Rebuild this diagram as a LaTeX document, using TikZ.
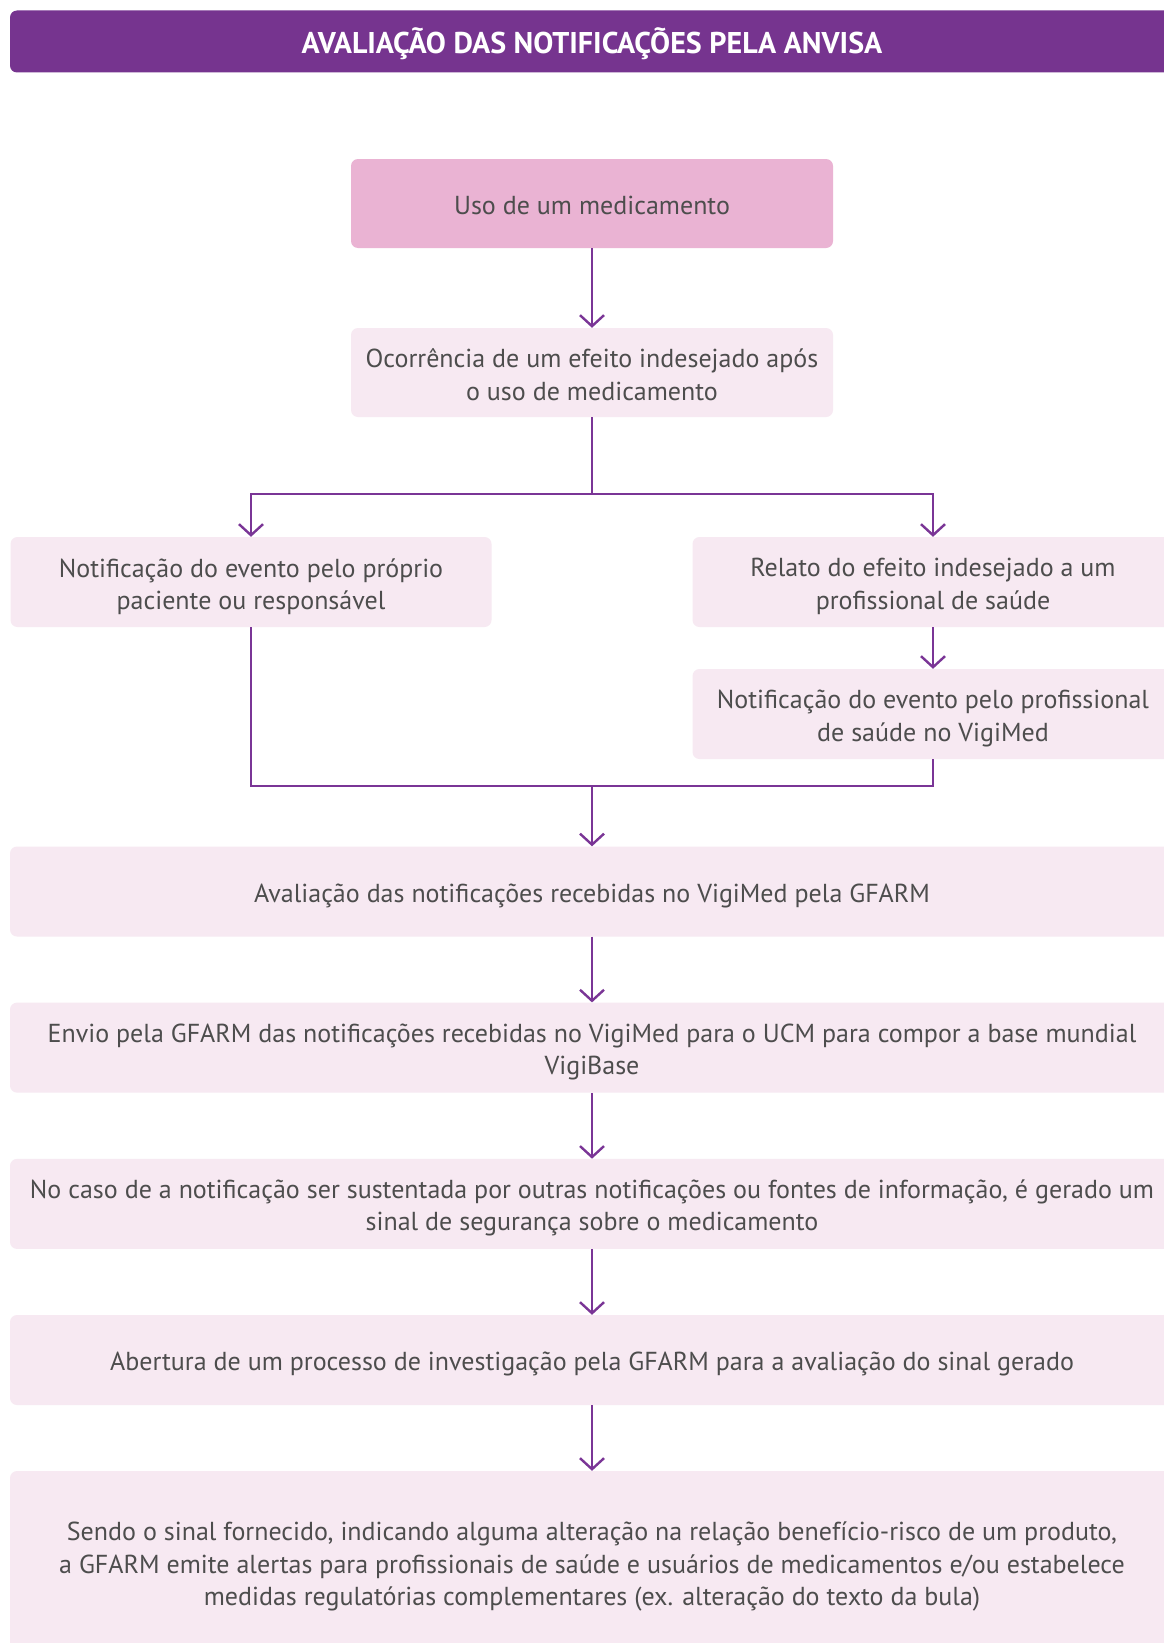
\documentclass[tikz,border=0pt]{standalone}
\usepackage{fontspec}
\setmainfont{PT Sans}
\usetikzlibrary{arrows.meta}
\definecolor{hdr}{HTML}{76348F}
\definecolor{pinkbox}{HTML}{EAB3D3}
\definecolor{lightbox}{HTML}{F7E9F2}
\definecolor{txt}{HTML}{4D4D4D}
\definecolor{arrc}{HTML}{7A3596}
\newcommand{\bodyfont}{\fontsize{26}{32.5}\selectfont}
\tikzset{
  box/.style={rounded corners=7pt, fill=lightbox, inner sep=0pt},
  halfbox/.style={box, minimum width=481pt, minimum height=90pt},
  fullbox/.style={box, minimum width=1164pt, minimum height=90pt},
  lbl/.style={inner sep=0pt, align=center, font=\bodyfont, text=txt},
  conn/.style={draw=arrc, line width=2.4pt},
  arr/.style={conn, -{Straight Barb[length=11pt,width=24pt,line width=2.4pt]}},
}
\begin{document}
\begin{tikzpicture}[x=1pt,y=-1pt]
\clip (0,0) rectangle (1164,1643);
\fill[white] (0,0) rectangle (1164,1643);
% header
\node[rounded corners=7pt, fill=hdr, minimum width=1164pt, minimum height=62pt, inner sep=0pt] (title) at (592,41.5) {};
\node[inner sep=0pt, text=white, font=\fontsize{30}{34}\selectfont\bfseries] (titletext) at ([yshift=-2pt]title.center) {AVALIAÇÃO DAS NOTIFICAÇÕES PELA ANVISA};
% boxes
\node[halfbox, fill=pinkbox, minimum width=482pt, minimum height=89pt] (b1) at (592,203.5) {};
\node[halfbox, minimum width=482pt, minimum height=89pt] (b2) at (592,372.5) {};
\node[halfbox] (b3) at (251,582) {};
\node[halfbox] (b4) at (933,582) {};
\node[halfbox] (b5) at (933,714) {};
\node[fullbox] (b6) at (592,891.5) {};
\node[fullbox] (b7) at (592,1047.6) {};
\node[fullbox] (b8) at (592,1203.9) {};
\node[fullbox] (b9) at (592,1360) {};
\node[fullbox, minimum height=184pt] (b10) at (592,1563) {};
% texts
\node[lbl] (t1) at ([yshift=-2pt]b1.center) {Uso de um medicamento};
\node[lbl] (t2) at ([yshift=-2pt]b2.center) {Ocorrência de um efeito indesejado após\\o uso de medicamento};
\node[lbl] (t3) at ([yshift=-4.5pt]b3.center) {Notificação do evento pelo próprio\\paciente ou responsável};
\node[lbl] (t4) at ([yshift=-4.5pt]b4.center) {Relato do efeito indesejado a um\\profissional de saúde};
\node[lbl] (t5) at ([yshift=-4.5pt]b5.center) {Notificação do evento pelo profissional\\de saúde no VigiMed};
\node[lbl] (t6) at ([yshift=-4pt]b6.center) {Avaliação das notificações recebidas no VigiMed pela GFARM};
\node[lbl] (t7) at ([yshift=-4.5pt]b7.center) {Envio pela GFARM das notificações recebidas no VigiMed para o UCM para compor a base mundial\\VigiBase};
\node[lbl] (t8) at ([yshift=-4pt]b8.center) {No caso de a notificação ser sustentada por outras notificações ou fontes de informação, é gerado um\\sinal de segurança sobre o medicamento};
\node[lbl] (t9) at ([yshift=-4pt]b9.center) {Abertura de um processo de investigação pela GFARM para a avaliação do sinal gerado};
\node[lbl] (t10) at ([yshift=-3.5pt]b10.center) {Sendo o sinal fornecido, indicando alguma alteração na relação benefício-risco de um produto,\\a GFARM emite alertas para profissionais de saúde e usuários de medicamentos e/ou estabelece\\medidas regulatórias complementares (ex. alteração do texto da bula)};
% connectors
\coordinate (split) at (592,494);
\coordinate (join) at (592,786);
\draw[arr] (b1) -- (b2);
\draw[conn] (b2) -- (split);
\draw[arr] (split) -| (b3.north);
\draw[arr] (split) -| (b4.north);
\draw[arr] (b4) -- (b5);
\draw[conn] (b3.south) |- (join);
\draw[conn] (b5.south) |- (join);
\draw[arr] (join) -- (b6);
\draw[arr] (b6) -- (b7);
\draw[arr] (b7) -- (b8);
\draw[arr] (b8) -- (b9);
\draw[arr] (b9) -- (b10);
\end{tikzpicture}
\end{document}
